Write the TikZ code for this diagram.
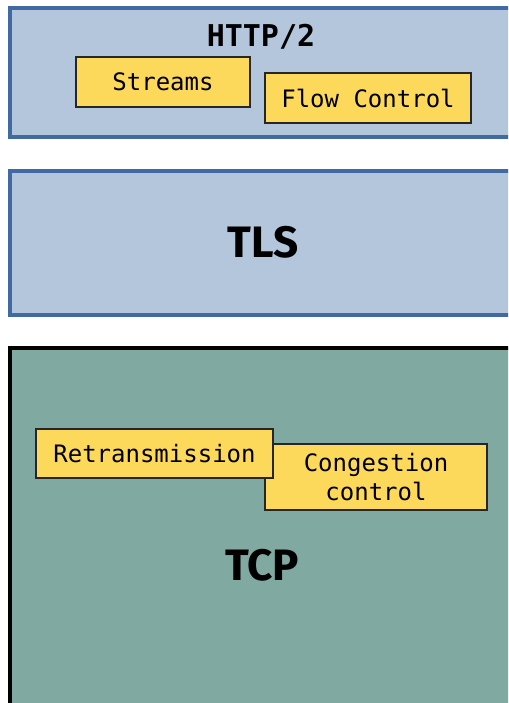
\documentclass[tikz,border=0pt]{standalone}
\usepackage{fontspec}
\setmainfont{Fira Sans}
\setmonofont{DejaVu Sans Mono}
\usepackage{tikz}
\usepackage{xcolor}
\usetikzlibrary{positioning}

\definecolor{layerblue}{HTML}{B3C6DC}
\definecolor{layeredge}{HTML}{4169A2}
\definecolor{tcpgreen}{HTML}{80A9A1}
\definecolor{featyellow}{HTML}{FCD95A}

\begin{document}
\begin{tikzpicture}[x=1pt,y=-1pt,
  layer/.style={draw=layeredge,fill=layerblue,line width=3.5pt},
  feature/.style={draw=black!85,fill=featyellow,line width=2pt,inner sep=0pt,
    font=\ttfamily\fontsize{24}{29}\selectfont,align=center},
  title/.style={font=\bfseries\fontsize{44}{50}\selectfont}]
  \def\W{508}
  \def\H{703}

  \clip (0,0) rectangle (\W,\H);

  % http/2 layer
  \draw[layer] (10,8) rectangle (540,137);
  \node[font=\ttfamily\bfseries\fontsize{30}{36}\selectfont] (http) at (261,37) {HTTP/2};
  \node[feature,minimum width=174pt,minimum height=50pt] (streams) at (163,82) {Streams};
  \node[feature,minimum width=206pt,minimum height=50pt] (flow) at (368,98) {Flow Control};

  % tls layer
  \draw[layer] (10,171) rectangle (540,315);
  \node[title] (tls) at (263,242) {TLS};

  % tcp layer
  \draw[black,fill=tcpgreen,line width=3.5pt] (10,348) rectangle (540,720);
  \node[feature,minimum width=222pt,minimum height=66pt] (congestion) at (376,477)
    {Congestion\\control};
  \node[feature,minimum width=237pt,minimum height=49pt] (retrans) at (154.5,453.5)
    {Retransmission};
  \node[title] (tcp) at (262,565) {TCP};

\end{tikzpicture}
\end{document}
